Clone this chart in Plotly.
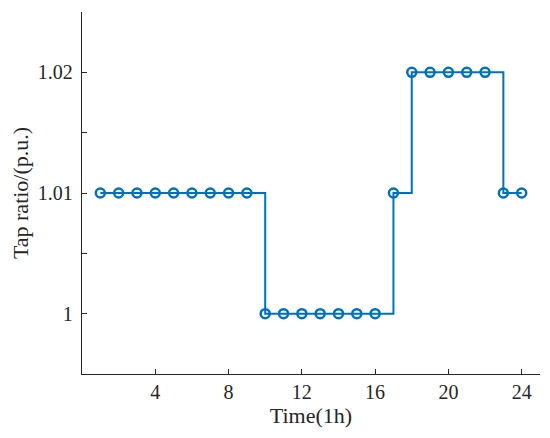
import plotly.graph_objects as go

# horas e tap do transformador
hours = list(range(1, 25))
tap = [1.01]*9 + [1.00]*7 + [1.01] + [1.02]*5 + [1.01]*2

y_ticks = [0.995, 1.0, 1.005, 1.01, 1.015, 1.02, 1.025]
y_labels = ["", "1", "", "1.01", "", "1.02", ""]
x_ticks = [4, 8, 12, 16, 20, 24]

blue = "#0072BD"
axis_col = "#262626"

fig = go.Figure()
fig.add_trace(
    go.Scatter(
        x=hours,
        y=tap,
        mode="lines+markers",
        line=dict(color=blue, width=2, shape="hv"),
        marker=dict(symbol="circle-open", size=9, color=blue, line=dict(width=2.5, color=blue)),
        showlegend=False,
    )
)

fig.update_layout(
    width=542,
    height=430,
    margin=dict(l=74, r=10, t=4, b=64),
    plot_bgcolor="white",
    paper_bgcolor="white",
    font=dict(family="Liberation Serif", size=18, color=axis_col),
    xaxis=dict(
        range=[0, 25],
        tickvals=x_ticks,
        ticks="inside",
        ticklen=5,
        tickcolor=axis_col,
        tickfont=dict(size=20),
        showline=True,
        linecolor=axis_col,
        linewidth=1.3,
        showgrid=False,
        zeroline=False,
        title=dict(text="Time(1h)", standoff=4),
    ),
    yaxis=dict(
        range=[0.995, 1.025],
        tickvals=y_ticks,
        ticktext=y_labels,
        ticks="inside",
        ticklen=5,
        tickcolor=axis_col,
        tickfont=dict(size=20),
        showline=True,
        linecolor=axis_col,
        linewidth=1.3,
        showgrid=False,
        zeroline=False,
        ticklabelstandoff=4,
        title=dict(text="Tap ratio/(p.u.)", standoff=6),
    ),
)

fig.write_html("out.html")
